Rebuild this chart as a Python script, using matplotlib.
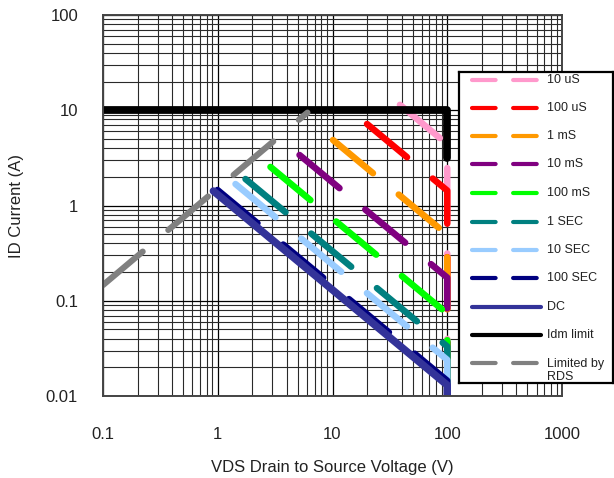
import matplotlib
matplotlib.use("Agg")
import matplotlib.pyplot as plt
from matplotlib.ticker import LogLocator, NullFormatter
from matplotlib.lines import Line2D

plt.rcParams['font.family'] = ['Liberation Sans', 'DejaVu Sans']
plt.rcParams['lines.scale_dashes'] = False

# safe operating area curves: (volts, amps) corner points per pulse width
labels = ['10 uS', '100 uS', '1 mS', '10 mS', '100 mS', '1 SEC', '10 SEC',
          '100 SEC', 'DC', 'Idm limit', 'Limited by\nRDS']
colors = ['#FF99CC', '#FF0000', '#FF9900', '#800080', '#00FF00', '#008080',
          '#99CCFF', '#000080', '#333399', '#000000', '#808080']

v_10us = [38.7, 100, 100]
i_10us = [11.4, 4.4, 0.01]
v_100us = [20.0, 100, 100]
i_100us = [7.17, 1.435, 0.01]
v_1ms = [10.1, 100, 100]
i_1ms = [4.87, 0.492, 0.01]
v_10ms = [5.16, 100, 100]
i_10ms = [3.39, 0.175, 0.01]
v_100ms = [2.88, 100, 100]
i_100ms = [2.54, 0.0732, 0.01]
v_1s = [1.745, 100, 100]
i_1s = [1.897, 0.0331, 0.01]
v_10s = [1.428, 100, 100]
i_10s = [1.68, 0.024, 0.01]
v_100s = [0.995, 100, 100]
i_100s = [1.455, 0.01448, 0.01]
v_dc = [0.916, 100, 100]
i_dc = [1.42, 0.013, 0.01]
v_idm = [0.1, 100, 100]
i_idm = [10, 10, 3.16]
v_rds = [0.1, 6.05]
i_rds = [0.146, 9.45]

volts = [v_10us, v_100us, v_1ms, v_10ms, v_100ms, v_1s, v_10s, v_100s, v_dc, v_idm, v_rds]
amps = [i_10us, i_100us, i_1ms, i_10ms, i_100ms, i_1s, i_10s, i_100s, i_dc, i_idm, i_rds]
dashed = [True] * 8 + [False, False, True]
widths = [4.7] * 8 + [5.4, 5.6, 4.4]

xticks = [0.1, 1, 10, 100, 1000]
xticklabels = ['0.1', '1', '10', '100', '1000']
yticks = [0.01, 0.1, 1, 10, 100]
yticklabels = ['0.01', '0.1', '1', '10', '100']

fig = plt.figure(figsize=(6.14, 4.78), dpi=100)
ax = fig.add_axes([103 / 614, 1 - 396 / 478, 459 / 614, 381 / 478])

for v, i, c, d, w in zip(volts, amps, colors, dashed, widths):
    line, = ax.plot(v, i, color=c, lw=w, solid_capstyle='round',
                    dash_capstyle='round', solid_joinstyle='round',
                    dash_joinstyle='round')
    if d:
        line.set_dashes((37.4, 24.1))

ax.set_xscale('log')
ax.set_yscale('log')
ax.set_xlim(0.1, 1000)
ax.set_ylim(0.01, 100)
ax.set_xticks(xticks, xticklabels)
ax.set_yticks(yticks, yticklabels)
ax.xaxis.set_minor_locator(LogLocator(base=10, subs=range(2, 10)))
ax.yaxis.set_minor_locator(LogLocator(base=10, subs=range(2, 10)))
ax.xaxis.set_minor_formatter(NullFormatter())
ax.yaxis.set_minor_formatter(NullFormatter())
ax.tick_params(which='both', length=0, labelsize=12, colors='#222222')
ax.tick_params(axis='x', pad=22)
ax.tick_params(axis='y', pad=18)
ax.grid(which='major', color='black', lw=0.9)
ax.grid(which='minor', color='#2a2a2a', lw=0.8)
ax.set_axisbelow(True)
for s in ax.spines.values():
    s.set_color('#444444')
    s.set_linewidth(1.4)

ax.set_xlabel('VDS Drain to Source Voltage (V)', fontsize=12, labelpad=13, color='#222222')
ax.set_ylabel('ID Current (A)', fontsize=12, labelpad=16, color='#222222')

# legend box drawn in its own pixel-unit axes
lax = fig.add_axes([459 / 614, 1 - 383 / 478, 154 / 614, 311 / 478])
lax.set_xlim(0, 154)
lax.set_ylim(311, 0)
lax.set_xticks([])
lax.set_yticks([])
lax.set_facecolor('white')
for s in lax.spines.values():
    s.set_color('black')
    s.set_linewidth(1.6)

row_y = [8, 36, 64, 92, 121, 150, 178, 206, 235, 263, 291]
for y, lab, c, d in zip(row_y, labels, colors, dashed):
    h = Line2D([13, 82], [y, y], color=c, lw=3.0, solid_capstyle='round',
               dash_capstyle='round')
    if d:
        h.set_dashes((17, 12.6))
    lax.add_line(h)
    if '\n' in lab:
        t = lax.text(88, y - 5, lab, fontsize=9, va='top', ha='left',
                     color='#222222', linespacing=1.15)
    else:
        t = lax.text(88, y, lab, fontsize=9, va='center', ha='left',
                     color='#222222')
    t.set_clip_on(True)

fig.savefig('out.png', dpi=100)
